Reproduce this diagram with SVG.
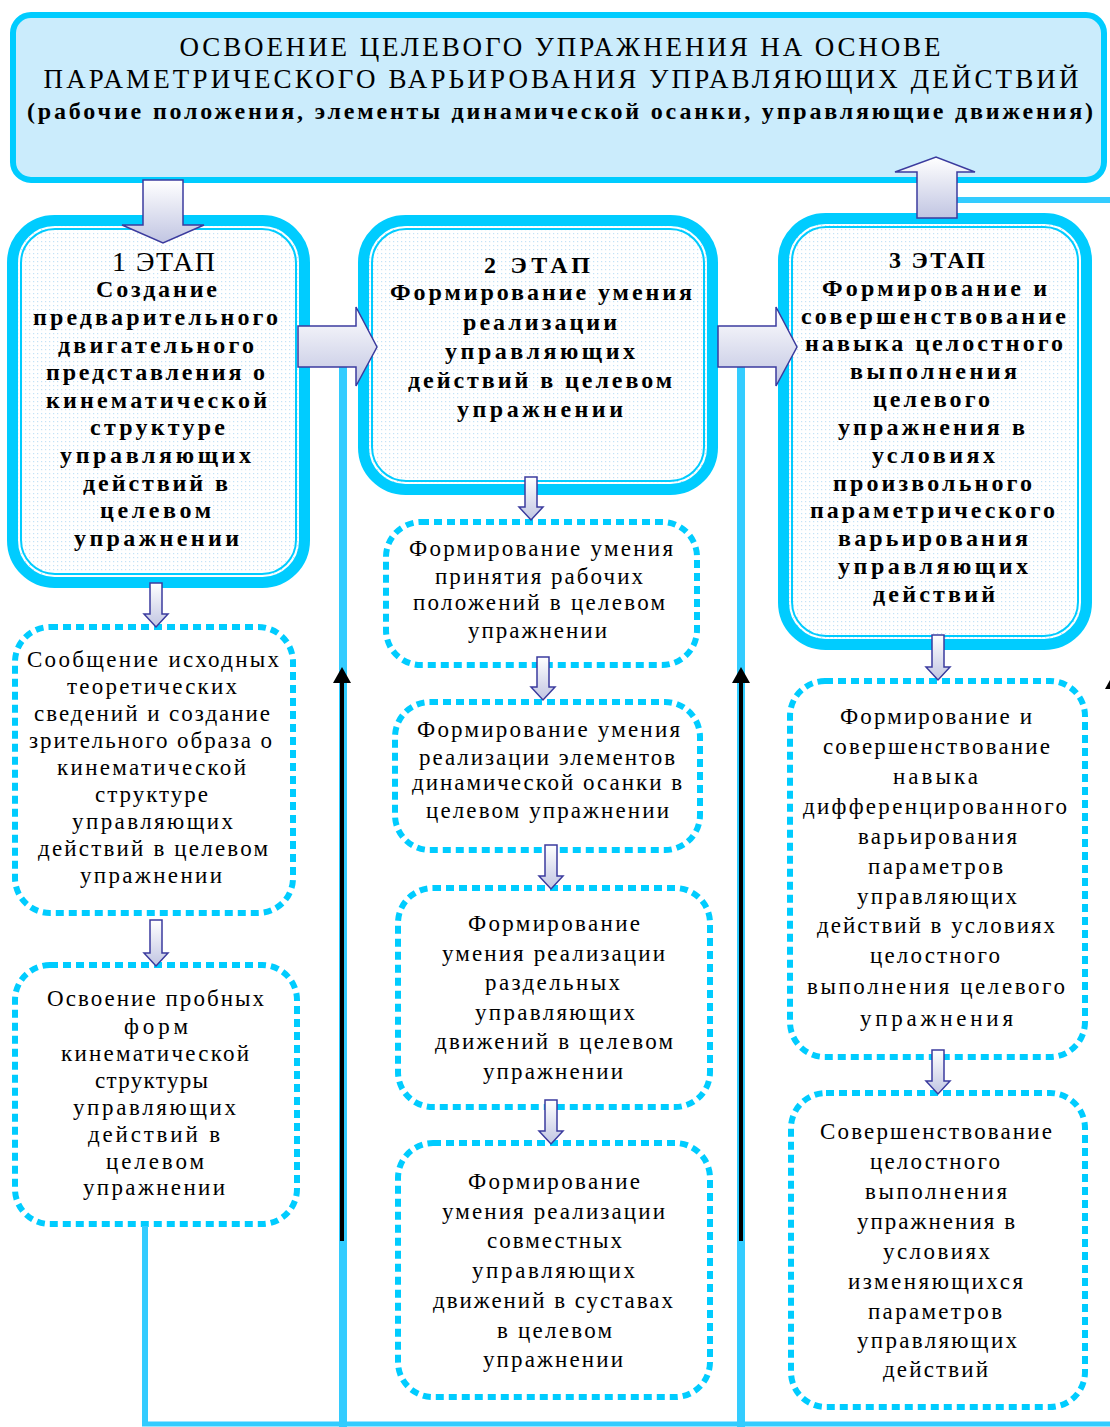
<svg xmlns="http://www.w3.org/2000/svg" width="1110" height="1427" viewBox="0 0 1110 1427">
<defs>
<pattern id="dots" width="4" height="4" patternUnits="userSpaceOnUse"><rect width="4" height="4" fill="#ffffff"/><rect x="1" y="1" width="1.2" height="1.2" fill="#c4e2f6"/></pattern>
<linearGradient id="ag" x1="0" y1="0" x2="0" y2="1"><stop offset="0" stop-color="#ffffff"/><stop offset="1" stop-color="#c1c5e2"/></linearGradient>
<marker id="blackHead" markerUnits="userSpaceOnUse" markerWidth="16" markerHeight="18" refX="0" refY="9" orient="auto"><path d="M0,0 L16,9 L0,18 Z" fill="#000"/></marker>
</defs>
<style>
.hdr{fill:#cbecfc;stroke:#00ccff;stroke-width:6}
.sk{fill:url(#dots);stroke:#00ccff;stroke-width:11}
.sn{fill:none;stroke:#00ccff;stroke-width:2}
.dt{fill:#ffffff;stroke:#00ccff;stroke-width:6;stroke-dasharray:8 5}
.blk{fill:url(#ag);stroke:#3b3b9e;stroke-width:1.5}
.cl{stroke:#33ccff;fill:none}
.bl{stroke:#000;stroke-width:4;fill:none;marker-end:url(#blackHead)}
.t{font-family:"Liberation Serif","Times New Roman",serif;fill:#000;text-anchor:middle}
.h{font-size:27px}
.b{font-size:24px;font-weight:bold}
.e{font-size:28px}
.r{font-size:23px}
</style>
<rect width="1110" height="1427" fill="#ffffff"/>

<g id="header">
<rect class="hdr" x="13" y="15" width="1091" height="165" rx="18"/>
<text class="t h" x="560" y="56" textLength="761">ОСВОЕНИЕ ЦЕЛЕВОГО УПРАЖНЕНИЯ НА ОСНОВЕ</text>
<text class="t h" x="561" y="88" textLength="1035">ПАРАМЕТРИЧЕСКОГО ВАРЬИРОВАНИЯ УПРАВЛЯЮЩИХ ДЕЙСТВИЙ</text>
<text class="t b" x="560" y="119" textLength="1066">(рабочие положения, элементы динамической осанки, управляющие движения)</text>
</g>

<g id="stage1">
<rect class="sk" x="12.5" y="220.5" width="292" height="362" rx="42"/>
<rect class="sn" x="21" y="229" width="275" height="345" rx="34"/>
<text class="t e" x="163.5" y="271" textLength="103">1 ЭТАП</text>
<text class="t b" x="156.5" y="297" textLength="121">Создание</text>
<text class="t b" x="155.5" y="325" textLength="245">предварительного</text>
<text class="t b" x="156" y="353" textLength="196">двигательного</text>
<text class="t b" x="155.5" y="380" textLength="219">представления о</text>
<text class="t b" x="156.5" y="408" textLength="221">кинематической</text>
<text class="t b" x="157.5" y="435" textLength="135">структуре</text>
<text class="t b" x="155.5" y="463" textLength="191">управляющих</text>
<text class="t b" x="155.5" y="491" textLength="145">действий в</text>
<text class="t b" x="155.5" y="518" textLength="111">целевом</text>
<text class="t b" x="156.5" y="546" textLength="165">упражнении</text>
</g>

<g id="stage2">
<rect class="sk" x="363.5" y="220.5" width="349" height="269" rx="42"/>
<rect class="sn" x="372" y="229" width="332" height="252" rx="34"/>
<text class="t b" x="537" y="273" font-size="27" textLength="106">2 ЭТАП</text>
<text class="t b" x="541" y="300" textLength="302">Формирование умения</text>
<text class="t b" x="540" y="330" textLength="154">реализации</text>
<text class="t b" x="540" y="359" textLength="190">управляющих</text>
<text class="t b" x="540" y="388" textLength="264">действий в целевом</text>
<text class="t b" x="540" y="417" textLength="166">упражнении</text>
</g>

<g id="stage3">
<rect class="sk" x="783.5" y="218.5" width="303" height="426" rx="42"/>
<rect class="sn" x="792" y="227" width="286" height="409" rx="34"/>
<text class="t b" x="937" y="268" font-size="27" textLength="96">3 ЭТАП</text>
<text class="t b" x="934.5" y="296" textLength="225">Формирование и</text>
<text class="t b" x="933.5" y="324" textLength="265">совершенствование</text>
<text class="t b" x="934" y="351" textLength="258">навыка целостного</text>
<text class="t b" x="933.5" y="379" textLength="167">выполнения</text>
<text class="t b" x="931.5" y="407" textLength="117">целевого</text>
<text class="t b" x="931.5" y="435" textLength="187">упражнения в</text>
<text class="t b" x="933.5" y="463" textLength="123">условиях</text>
<text class="t b" x="932.5" y="491" textLength="199">произвольного</text>
<text class="t b" x="932.5" y="518" textLength="245">параметрического</text>
<text class="t b" x="933" y="546" textLength="190">варьирования</text>
<text class="t b" x="933" y="574" textLength="190">управляющих</text>
<text class="t b" x="934" y="602" textLength="122">действий</text>
</g>

<g id="box1a">
<rect class="dt" x="15" y="627" width="278" height="286" rx="35"/>
<text class="t r" x="153" y="667" textLength="252">Сообщение исходных</text>
<text class="t r" x="152" y="694" textLength="170">теоретических</text>
<text class="t r" x="152" y="721" textLength="236">сведений и создание</text>
<text class="t r" x="150.5" y="748" textLength="243">зрительного образа о</text>
<text class="t r" x="151.5" y="775" textLength="189">кинематической</text>
<text class="t r" x="151.5" y="802" textLength="113">структуре</text>
<text class="t r" x="152.5" y="829" textLength="161">управляющих</text>
<text class="t r" x="153" y="856" textLength="230">действий в целевом</text>
<text class="t r" x="151" y="883" textLength="142">упражнении</text>
</g>

<g id="box1b">
<rect class="dt" x="15" y="965" width="282" height="259" rx="35"/>
<text class="t r" x="155.5" y="1006" textLength="217">Освоение пробных</text>
<text class="t r" x="156" y="1034" textLength="64">форм</text>
<text class="t r" x="155" y="1061" textLength="188">кинематической</text>
<text class="t r" x="151.5" y="1088" textLength="113">структуры</text>
<text class="t r" x="154.5" y="1115" textLength="163">управляющих</text>
<text class="t r" x="154" y="1142" textLength="132">действий  в</text>
<text class="t r" x="155" y="1169" textLength="98">целевом</text>
<text class="t r" x="154" y="1195" textLength="142">упражнении</text>
</g>

<g id="box2a">
<rect class="dt" x="386" y="522" width="311" height="143" rx="35"/>
<text class="t r" x="541" y="556" textLength="264">Формирование умения</text>
<text class="t r" x="539" y="584" textLength="208">принятия рабочих</text>
<text class="t r" x="539" y="610" textLength="252">положений в целевом</text>
<text class="t r" x="537.5" y="638" textLength="139">упражнении</text>
</g>

<g id="box2b">
<rect class="dt" x="395" y="702" width="305" height="148" rx="35"/>
<text class="t r" x="548.5" y="737" textLength="263">Формирование умения</text>
<text class="t r" x="547" y="765" textLength="256">реализации элементов</text>
<text class="t r" x="547" y="790" textLength="270">динамической осанки в</text>
<text class="t r" x="547.5" y="818" textLength="243">целевом упражнении</text>
</g>

<g id="box2c">
<rect class="dt" x="398" y="888" width="312" height="219" rx="35"/>
<text class="t r" x="554" y="931" textLength="172">Формирование</text>
<text class="t r" x="553.5" y="961" textLength="223">умения реализации</text>
<text class="t r" x="552.5" y="990" textLength="135">раздельных</text>
<text class="t r" x="555" y="1020" textLength="160">управляющих</text>
<text class="t r" x="554" y="1049" textLength="238">движений в целевом</text>
<text class="t r" x="553" y="1079" textLength="140">упражнении</text>
</g>

<g id="box2d">
<rect class="dt" x="398" y="1143" width="312" height="254" rx="35"/>
<text class="t r" x="554" y="1189" textLength="172">Формирование</text>
<text class="t r" x="553.5" y="1219" textLength="223">умения реализации</text>
<text class="t r" x="554.5" y="1248" textLength="135">совместных</text>
<text class="t r" x="553.5" y="1278" textLength="163">управляющих</text>
<text class="t r" x="553" y="1308" textLength="240">движений в суставах</text>
<text class="t r" x="554.5" y="1338" textLength="115">в целевом</text>
<text class="t r" x="553" y="1367" textLength="140">упражнении</text>
</g>

<g id="box3a">
<rect class="dt" x="790" y="681" width="295" height="376" rx="35"/>
<text class="t r" x="936" y="724" textLength="192">Формирование и</text>
<text class="t r" x="936.5" y="754" textLength="227">совершенствование</text>
<text class="t r" x="935.5" y="784" textLength="85">навыка</text>
<text class="t r" x="935" y="814" textLength="264">дифференцированного</text>
<text class="t r" x="937.5" y="844" textLength="159">варьирования</text>
<text class="t r" x="935.5" y="874" textLength="135">параметров</text>
<text class="t r" x="937" y="904" textLength="160">управляющих</text>
<text class="t r" x="936" y="933" textLength="238">действий в условиях</text>
<text class="t r" x="935" y="963" textLength="130">целостного</text>
<text class="t r" x="936" y="994" textLength="258">выполнения целевого</text>
<text class="t r" x="936.5" y="1026" textLength="153">упражнения</text>
</g>

<g id="box3b">
<rect class="dt" x="791" y="1093" width="294" height="314" rx="35"/>
<text class="t r" x="936" y="1139" textLength="232">Совершенствование</text>
<text class="t r" x="935" y="1169" textLength="130">целостного</text>
<text class="t r" x="936" y="1199" textLength="142">выполнения</text>
<text class="t r" x="936" y="1229" textLength="158">упражнения в</text>
<text class="t r" x="936.5" y="1259" textLength="107">условиях</text>
<text class="t r" x="935.5" y="1289" textLength="175">изменяющихся</text>
<text class="t r" x="935" y="1319" textLength="134">параметров</text>
<text class="t r" x="937" y="1348" textLength="160">управляющих</text>
<text class="t r" x="935.5" y="1377" textLength="105">действий</text>
</g>

<g id="connectors">
<line class="cl" x1="343" y1="360" x2="343" y2="1427" stroke-width="8"/>
<line class="cl" x1="741" y1="360" x2="741" y2="1427" stroke-width="8"/>
<line class="cl" x1="145" y1="1226" x2="145" y2="1424" stroke-width="6"/>
<line class="cl" x1="142" y1="1424" x2="1110" y2="1424" stroke-width="5"/>
<line class="cl" x1="955" y1="200" x2="1110" y2="200" stroke-width="6"/>
<line class="bl" x1="342" y1="1241" x2="342" y2="683"/>
<line class="bl" x1="741" y1="1241" x2="741" y2="683"/>
<line class="bl" x1="1114" y1="1241" x2="1114" y2="689"/>
<path class="blk" d="M143,180 H183 V225 H204 L163,243 L122,225 H143 Z"/>
<path class="blk" d="M917,218 V172 H895 L936,157 L975,172 H957 V218 Z"/>
<path class="blk" d="M298,326 H356 V307 L377,347 L356,386 V367 H298 Z"/>
<path class="blk" d="M718,326 H776 V307 L797,347 L776,386 V367 H718 Z"/>
<path class="blk" d="M150,583 H162 V614 H168 L156,627 L144,614 H150 Z"/>
<path class="blk" d="M150,920 H162 V953 H168 L156,966 L144,953 H150 Z"/>
<path class="blk" d="M525,477 H537 V507 H543 L531,520 L519,507 H525 Z"/>
<path class="blk" d="M537,657 H549 V687 H555 L543,700 L531,687 H537 Z"/>
<path class="blk" d="M545,845 H557 V876 H563 L551,889 L539,876 H545 Z"/>
<path class="blk" d="M545,1100 H557 V1131 H563 L551,1144 L539,1131 H545 Z"/>
<path class="blk" d="M932,635 H944 V667 H950 L938,680 L926,667 H932 Z"/>
<path class="blk" d="M932,1050 H944 V1081 H950 L938,1094 L926,1081 H932 Z"/>
</g>
</svg>
